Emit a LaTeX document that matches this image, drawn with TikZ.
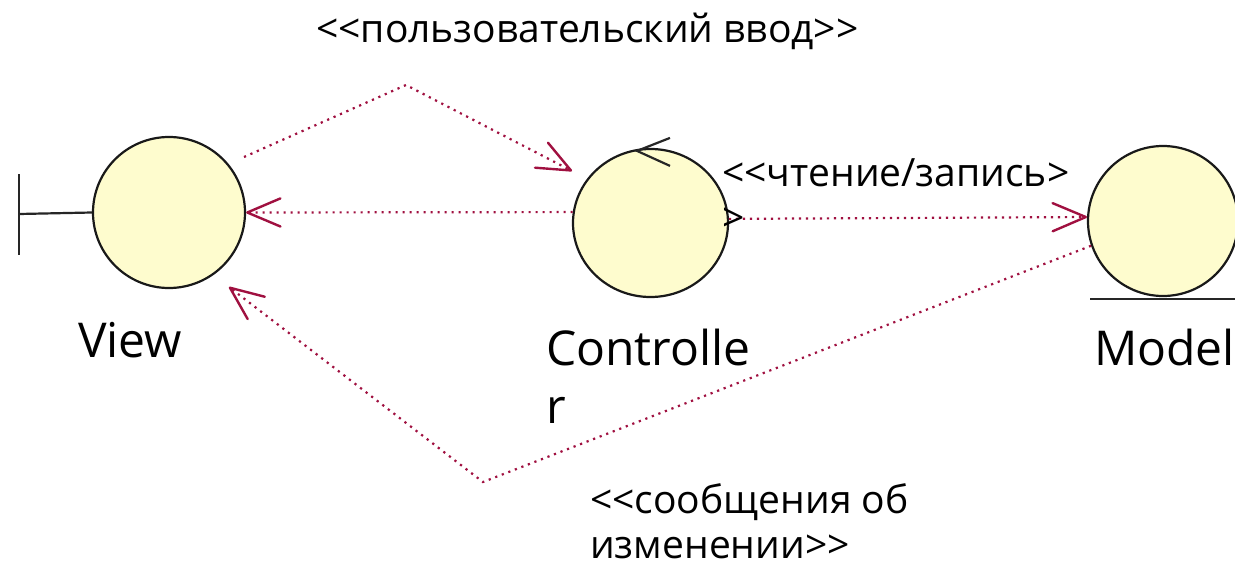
\documentclass[tikz,border=0pt]{standalone}
\usepackage{fontspec}
\setmainfont{Open Sans}
\usetikzlibrary{arrows.meta,shapes.geometric,calc}
\definecolor{objfill}{RGB}{254,252,206}
\definecolor{linkred}{RGB}{160,16,64}
\begin{document}
\begin{tikzpicture}[x=1pt,y=-1pt,
  obj/.style={ellipse,draw=black!90,line width=2.2pt,fill=objfill,inner sep=0pt},
  iconline/.style={draw=black!85,line width=2.2pt},
  link/.style={draw=linkred,line width=2.2pt,dash pattern=on 2.2pt off 4.8pt,
    -{Straight Barb[angle=46:36pt,line width=2.4pt,round]}},
  nametext/.style={anchor=base west,inner sep=0pt,align=left,
    font=\fontsize{48}{58}\selectfont},
  stereo/.style={anchor=base west,inner sep=0pt,align=left,
    font=\fontsize{39}{45}\selectfont}]
\useasboundingbox (0,0) rectangle (1235,570);
\fill[white] (0,0) rectangle (1235,570);

% the three analysis classes
\node[obj,minimum width=152pt,minimum height=151pt] (view) at (169,212.5) {};
\node[obj,minimum width=155pt,minimum height=148pt] (ctrl) at (650.5,223) {};
\node[obj,minimum width=150pt,minimum height=150pt] (model) at (1163,221) {};

% boundary, control and entity marks
\draw[iconline] (view.west) -- ++(-73,1.5) coordinate (bnd);
\draw[iconline] ($(bnd)+(0,-40)$) -- ($(bnd)+(0,41)$);
\draw[iconline] ($(ctrl.north)+(19.5,-10)$) -- ($(ctrl.north)+(-13.5,3)$) -- ($(ctrl.north)+(19.5,18)$);
\draw[iconline] ($(model.south)+(-73,2)$) -- ($(model.south)+(90,2)$);

% names (base anchor sits on the last line)
\node[nametext] (viewname) at (78,357) {View};
\node[nametext] (ctrlname) at (546,423) {Controlle\\r};
\node[nametext] (modelname) at (1094,365) {Model};

% user input
\coordinate (u1) at (244,157);
\coordinate (u2) at (406,85);
\coordinate (u3) at (572,171);
\draw[link] (u1) -- (u2) -- (u3);
\node[stereo] (uin) at (316,42) {<{}<пользовательский ввод>{}>};

% controller updates the view
\draw[link] (ctrl.172.5) -- (view.east);

% read / write
\draw[link] (ctrl.3.7) -- (model.177.7);
\node[stereo] (rw) at (722,231) {<{}<чтение/запись>{}\\>};

% change notifications
\coordinate (n2) at (483,482);
\coordinate (n3) at (229,287);
\draw[link] (model.199) -- (n2) -- (n3);
\node[stereo] (chg) at (590,558) {<{}<сообщения об\\изменении>{}>};
\end{tikzpicture}
\end{document}
